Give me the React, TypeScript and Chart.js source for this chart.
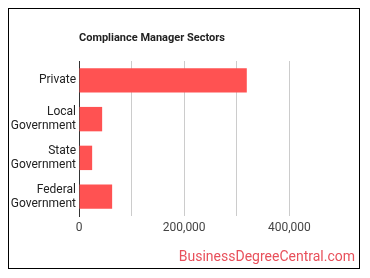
import React, { useEffect, useRef } from "react";
import { Chart, registerables } from "chart.js";

Chart.register(...registerables);

const categories: (string | string[])[] = [
  "Private",
  ["Local", "Government"],
  ["State", "Government"],
  ["Federal", "Government"],
];
const employment: number[] = [319000, 44000, 25000, 63000];
const titleText = "Compliance Manager Sectors";
const watermark = "BusinessDegreeCentral.com";

export default function App() {
  const ref = useRef<HTMLCanvasElement | null>(null);
  useEffect(() => {
    if (!ref.current) return;
    const chart = new Chart(ref.current, {
      type: "bar",
      data: {
        labels: categories,
        datasets: [
          {
            data: employment,
            backgroundColor: "#ff5252",
            borderWidth: 0,
            barPercentage: 0.7,
            categoryPercentage: 0.9,
          },
        ],
      },
      options: {
        indexAxis: "y",
        responsive: false,
        animation: false,
        maintainAspectRatio: false,
        layout: { padding: { left: 0, right: 17, top: 52, bottom: 30 } },
        plugins: {
          legend: { display: false },
          tooltip: { enabled: false },
          title: { display: false },
        },
        scales: {
          x: {
            min: 0,
            max: 500000,
            afterFit: (scale: any) => {
              scale.height = 22;
            },
            ticks: {
              stepSize: 100000,
              autoSkip: false,
              maxRotation: 0,
              padding: 5,
              color: "#444",
              font: { family: "Roboto", size: 12 },
              callback: (v: any) => {
                const n = Number(v);
                return n % 200000 === 0 && n < 500000 ? n.toLocaleString("en-US") : "";
              },
            },
            grid: {
              color: (ctx: any) =>
                ctx.tick && ctx.tick.value >= 500000 ? "rgba(0,0,0,0)" : "#cccccc",
              drawTicks: false,
              lineWidth: 1,
            },
            border: { display: false },
          },
          y: {
            afterFit: (scale: any) => {
              scale.width = 70;
            },
            ticks: {
              padding: 3,
              color: "#222",
              font: { family: "Roboto", size: 12, lineHeight: 1.17 },
            },
            grid: { display: false, drawTicks: false },
            border: { display: true, color: "#333", width: 1 },
          },
        },
      },
    });
    return () => chart.destroy();
  }, []);

  return (
    <div
      style={{
        position: "relative",
        width: 350,
        height: 259,
        border: "1px solid #000",
        background: "#fff",
      }}
    >
      <canvas ref={ref} width={350} height={259} style={{ display: "block" }} />
      <div
        style={{
          position: "absolute",
          left: 70,
          top: 22,
          fontFamily: "Roboto",
          fontWeight: "bold",
          fontSize: 11,
          lineHeight: "13px",
          color: "#222",
          whiteSpace: "nowrap",
        }}
      >
        {titleText}
      </div>
      <div
        style={{
          position: "absolute",
          right: 4,
          top: 239,
          fontFamily: "Roboto",
          fontSize: 14,
          lineHeight: "16px",
          color: "#e8505b",
          whiteSpace: "nowrap",
        }}
      >
        {watermark}
      </div>
    </div>
  );
}
